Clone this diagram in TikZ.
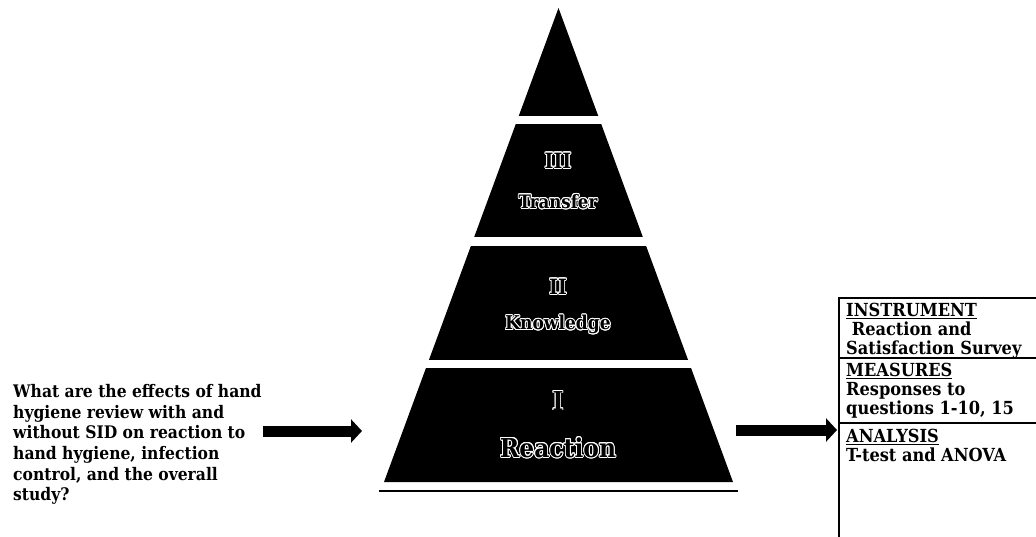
\documentclass[tikz,border=0pt]{standalone}
\usepackage{fontspec}
\setmainfont{DejaVu Serif Condensed}[BoldFont={DejaVu Serif Condensed Bold}]
\newfontfamily\levelfont{DejaVu Serif Condensed}[BoldFont={DejaVu Serif Condensed Bold}]
\usepackage[copies]{contour}
\contourlength{0.9pt}
\contournumber{16}
\usetikzlibrary{arrows.meta}

\tikzset{
  band/.style={fill=black},
  gap/.style={fill=white},
  levelnum/.style={font=\levelfont\bfseries\fontsize{21}{21}\selectfont, text=black, inner sep=0pt},
  levelname/.style={font=\levelfont\bfseries\fontsize{18.5}{18.5}\selectfont, text=black, inner sep=0pt},
  fatarrow/.style={line width=11pt, -{Triangle[length=11pt,width=23pt]}, shorten >=0pt},
  boxtext/.style={font=\bfseries\fontsize{18}{19.2}\selectfont, align=left, anchor=north west, inner sep=0pt},
  qtext/.style={font=\bfseries\fontsize{17.3}{20.7}\selectfont, align=left, anchor=north west, inner sep=0pt},
  frameline/.style={line width=1.6pt},
}
\newcommand{\outlined}[1]{\contour{white}{#1}}
\newcommand{\uhead}[1]{\underline{#1}}

\begin{document}
\begin{tikzpicture}[x=1pt,y=-1pt]
\useasboundingbox (0,0) rectangle (1036,537);

% pyramid: one triangle split by white gaps
\coordinate (apex) at (558.5,8);
\coordinate (bl) at (384,482);
\coordinate (br) at (733,482);
\fill[band] (apex) -- (bl) -- (br) -- cycle;
\fill[gap] (370,116) rectangle (750,124);
\fill[gap] (370,237) rectangle (750,246);
\fill[gap] (370,360) rectangle (750,368);
\draw[line width=2pt] (379,491) -- (738,491);

% level labels
\node[levelnum] (n3) at (558,161) {\outlined{III}};
\node[levelname] (l3) at (558,202) {\outlined{Transfer}};
\node[levelnum] (n2) at (558,287) {\outlined{II}};
\node[levelname, font=\levelfont\bfseries\fontsize{19}{19}\selectfont] (l2) at (558,325) {\outlined{Knowledge}};
\node[levelnum, font=\levelfont\bfseries\fontsize{26}{26}\selectfont] (n1) at (558,401) {\outlined{I}};
\node[levelname, font=\levelfont\bfseries\fontsize{26}{26}\selectfont] (l1) at (558,448) {\outlined{Reaction}};

% research question
\node[qtext] (q) at (13,384) {What are the effects of hand\\hygiene review with and\\without SID on reaction to\\hand hygiene, infection\\control, and the overall\\study?};

% arrows in and out of the pyramid
\coordinate (inA) at (263,431);
\coordinate (inB) at (362,431);
\coordinate (outA) at (736,430);
\coordinate (outB) at (837,430);
\draw[fatarrow] (inA) -- (inB);
\draw[fatarrow] (outA) -- (outB);

% instrument / measures / analysis box
\coordinate (boxTL) at (839,298);
\coordinate (boxTR) at (1036,298);
\coordinate (boxBL) at (839,537);
\draw[frameline] (boxTR) -- (boxTL) -- (boxBL);
\draw[frameline] (839,358) -- (1036,358);
\draw[frameline] (839,423) -- (1036,423);

\node[boxtext] (s1) at (846,303) {\uhead{INSTRUMENT}\\\ Reaction and\\Satisfaction Survey};
\node[boxtext] (s2) at (846,363) {\uhead{MEASURES}\\Responses to\\questions 1-10, 15};
\node[boxtext] (s3) at (846,429) {\uhead{ANALYSIS}\\T-test and ANOVA};
\end{tikzpicture}
\end{document}
